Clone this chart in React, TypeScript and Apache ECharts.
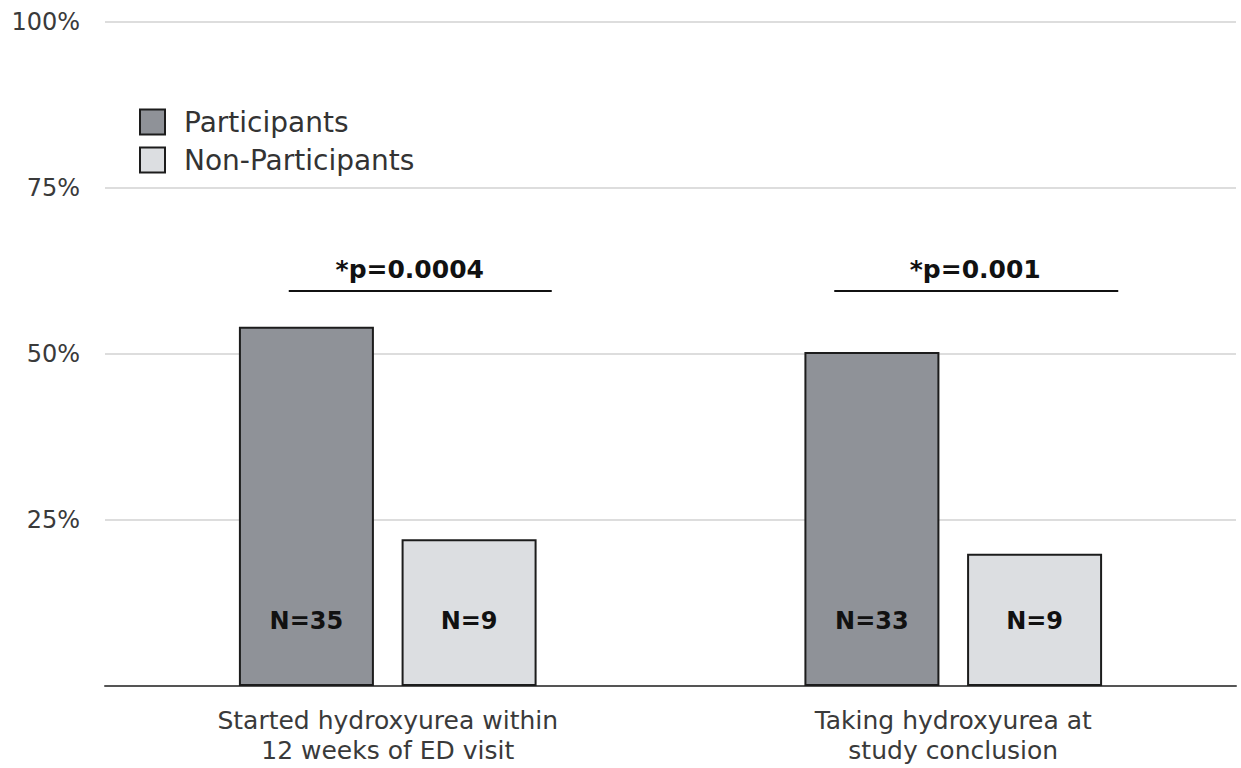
import React, { useEffect, useRef } from "react";
import * as echarts from "echarts";

const categories = ["Started hydroxyurea within\n12 weeks of ED visit", "Taking hydroxyurea at\nstudy conclusion"];
const participants = [54.1, 50.3];
const nonParticipants = [22.1, 19.9];
const participantsN = [35, 33];
const nonParticipantsN = [9, 9];
const pValues = ["*p=0.0004", "*p=0.001"];
const pLineLevel = 59.5;
const yTicks = [0, 25, 50, 75, 100];

const FONT = "DejaVu Sans";

export default function App() {
  const ref = useRef<HTMLDivElement>(null);
  useEffect(() => {
    if (!ref.current) return;
    const chart = echarts.init(ref.current, undefined, { renderer: "svg" });
    const barBorder = { borderColor: "#1c1c1c", borderWidth: 2 };
    chart.setOption({
      animation: false,
      textStyle: { fontFamily: FONT },
      grid: { left: 105, right: 5, top: 22, bottom: 82 },
      legend: {
        orient: "vertical",
        left: 134,
        top: 103,
        itemWidth: 25,
        itemHeight: 25,
        itemGap: 10,
        icon: "rect",
        textStyle: { fontSize: 28, color: "#333", fontFamily: FONT, padding: [0, 0, 0, 14] },
        data: ["Participants", "Non-Participants"],
      },
      xAxis: {
        type: "category",
        data: categories,
        axisLine: { lineStyle: { color: "#555", width: 2 } },
        axisTick: { show: false },
        axisLabel: { fontSize: 25, color: "#3a3a3a", lineHeight: 30, margin: 19, fontFamily: FONT },
      },
      yAxis: {
        type: "value",
        min: yTicks[0],
        max: yTicks[yTicks.length - 1],
        interval: 25,
        axisLine: { show: false },
        axisTick: { show: false },
        splitLine: { lineStyle: { color: "#d2d2d2", width: 1.5 } },
        axisLabel: {
          fontSize: 24,
          color: "#3a3a3a",
          margin: 25,
          fontFamily: FONT,
          formatter: (v: number) => (v === 0 ? "" : v + "%"),
        },
      },
      series: [
        {
          name: "Participants",
          type: "bar",
          barWidth: 135,
          barGap: "20.5%",
          data: participants,
          itemStyle: { color: "#8f9298", ...barBorder },
          label: {
            show: true,
            position: "insideBottom",
            distance: 53,
            fontSize: 24,
            fontWeight: "bold",
            color: "#111",
            fontFamily: FONT,
            formatter: (p: any) => "N=" + participantsN[p.dataIndex],
          },
        },
        {
          name: "Non-Participants",
          type: "bar",
          barWidth: 135,
          data: nonParticipants,
          itemStyle: { color: "#dcdee1", ...barBorder },
          label: {
            show: true,
            position: "insideBottom",
            distance: 53,
            fontSize: 24,
            fontWeight: "bold",
            color: "#111",
            fontFamily: FONT,
            formatter: (p: any) => "N=" + nonParticipantsN[p.dataIndex],
          },
        },
      ],
    });

    const graphics: any[] = [];
    const lineOffsets = [
      [-99, 164],
      [-119, 165],
    ];
    const textOffsets = [22, 22];
    categories.forEach((c, i) => {
      const [cx, ly] = chart.convertToPixel({ gridIndex: 0 }, [i, pLineLevel]) as number[];
      graphics.push({
        type: "line",
        shape: { x1: cx + lineOffsets[i][0], y1: ly, x2: cx + lineOffsets[i][1], y2: ly },
        style: { stroke: "#111", lineWidth: 2 },
      });
      graphics.push({
        type: "text",
        x: cx + textOffsets[i],
        y: ly - 9,
        style: {
          text: pValues[i],
          fontSize: 25,
          fontWeight: "bold",
          fontFamily: FONT,
          fill: "#111",
          align: "center",
          verticalAlign: "bottom",
        },
      });
    });
    chart.setOption({ graphic: graphics });

    return () => chart.dispose();
  }, []);
  return (
    <div
      ref={ref}
      style={{ position: "fixed", left: 0, top: 0, width: 1241, height: 768, background: "#fff" }}
    />
  );
}
